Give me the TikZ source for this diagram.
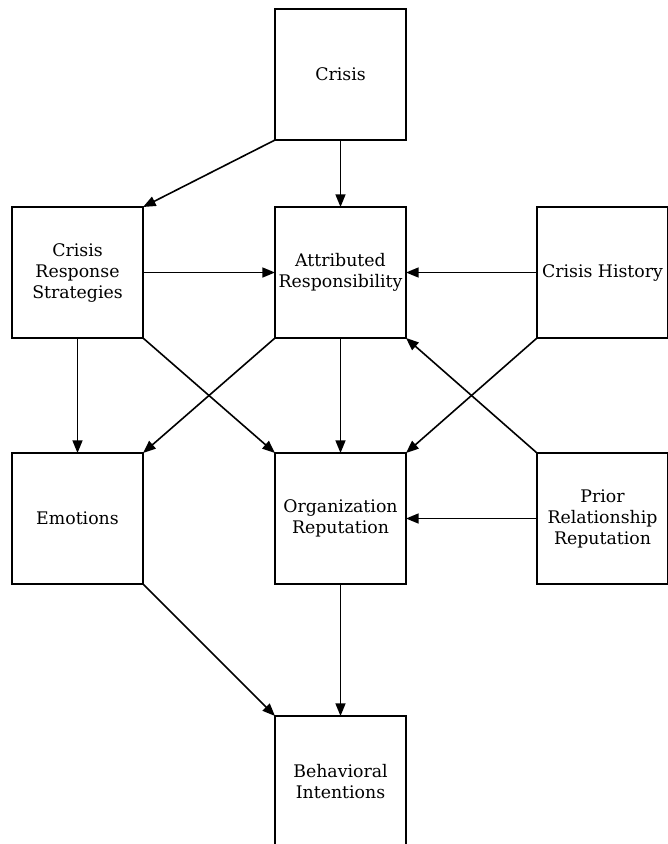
\documentclass[tikz,border=0pt]{standalone}
\usepackage{fontspec}
\setmainfont{DejaVu Serif}
\usetikzlibrary{arrows.meta}
\begin{document}
\begin{tikzpicture}[x=0.75pt,y=-0.75pt,
  box/.style={draw,line width=1.2pt,minimum width=98.25pt,minimum height=98.25pt,
    align=center,inner sep=0pt,outer sep=0pt,
    font=\fontsize{13}{15.75}\selectfont},
  link/.style={line width=1.2pt,-{Triangle[length=9.5pt,width=7.5pt]}}]
\useasboundingbox (0,0) rectangle (668,844);
% boxes
\node[box] (crisis)  at (340.5,74.5)  {Crisis};
\node[box] (crs)     at (77.5,272.5)  {Crisis\\Response\\Strategies};
\node[box] (ar)      at (340.5,272.5) {Attributed\\Responsibility};
\node[box] (hist)    at (602.5,272.5) {Crisis History};
\node[box] (emo)     at (77.5,518.5)  {Emotions};
\node[box] (orgrep)  at (340.5,518.5) {Organization\\Reputation};
\node[box] (prior)   at (602.5,518.5) {Prior\\Relationship\\Reputation};
\node[box] (behav)   at (340.5,781.5) {Behavioral\\Intentions};
% connectors
\draw[link] (crisis.south west) -- (crs.north east);
\draw[link] (crisis.south) -- (ar.north);
\draw[link] (crs.east) -- (ar.west);
\draw[link] (hist.west) -- (ar.east);
\draw[link] (crs.south) -- (emo.north);
\draw[link] (crs.south east) -- (orgrep.north west);
\draw[link] (ar.south west) -- (emo.north east);
\draw[link] (ar.south) -- (orgrep.north);
\draw[link] (hist.south west) -- (orgrep.north east);
\draw[link] (prior.north west) -- (ar.south east);
\draw[link] (prior.west) -- (orgrep.east);
\draw[link] (emo.south east) -- (behav.north west);
\draw[link] (orgrep.south) -- (behav.north);
\end{tikzpicture}
\end{document}
